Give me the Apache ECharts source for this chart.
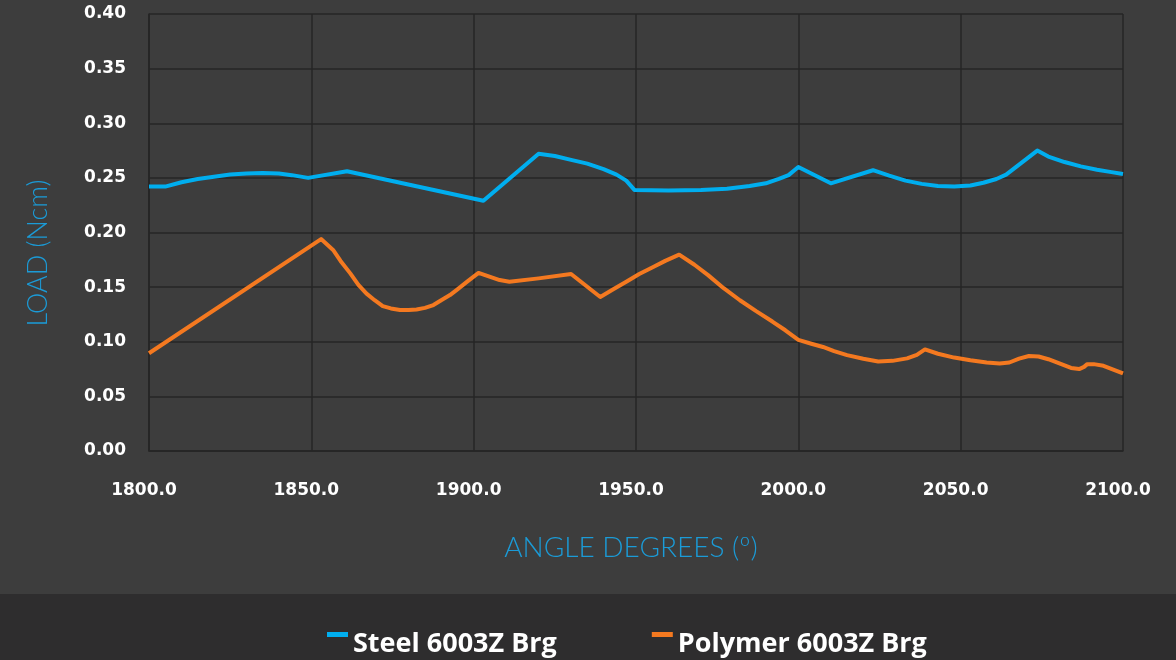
<!DOCTYPE html>
<html>
<head>
<meta charset="utf-8">
<script src="https://cdn.jsdelivr.net/npm/echarts@6/dist/echarts.min.js"></script>
<style>
html,body{margin:0;padding:0;background:#3d3d3d;}
#c{width:1176px;height:660px;}
</style>
</head>
<body>
<div id="c"></div>
<script>
const seriesNames = ['Steel 6003Z Brg', 'Polymer 6003Z Brg'];
const xTicks = [1800, 1850, 1900, 1950, 2000, 2050, 2100];
const yTicks = [0, 0.05, 0.10, 0.15, 0.20, 0.25, 0.30, 0.35, 0.40];

const steelAngle = [1800, 1805, 1810, 1815, 1820, 1825, 1830, 1835, 1840, 1844, 1849, 1861, 1903, 1920, 1925, 1930, 1935, 1940, 1944, 1947, 1949.5, 1960, 1970, 1978, 1985, 1990, 1994, 1997, 2000, 2010, 2023, 2028, 2033, 2038, 2043, 2048, 2053, 2057, 2061, 2064, 2073.6, 2077, 2082, 2087, 2092, 2096, 2100];
const steelLoad  = [0.242, 0.242, 0.246, 0.249, 0.251, 0.253, 0.254, 0.2545, 0.254, 0.2525, 0.250, 0.256, 0.229, 0.272, 0.270, 0.2665, 0.263, 0.258, 0.253, 0.2475, 0.239, 0.2385, 0.239, 0.240, 0.2425, 0.245, 0.249, 0.2525, 0.260, 0.245, 0.257, 0.252, 0.2475, 0.2445, 0.2425, 0.242, 0.243, 0.2455, 0.249, 0.253, 0.275, 0.2695, 0.2645, 0.2605, 0.2575, 0.2555, 0.2535];

const polyAngle = [1800, 1853, 1856.7, 1859, 1862, 1864.5, 1867, 1869.5, 1872, 1874.5, 1877.3, 1880, 1882.4, 1885, 1887.6, 1890, 1892.7, 1895, 1898, 1901.5, 1908, 1911, 1920, 1930, 1939, 1943, 1947, 1951, 1955, 1959, 1963.3, 1968, 1972.2, 1977, 1982, 1987, 1992, 1996, 2000, 2004, 2007.6, 2011, 2015, 2020, 2024.6, 2029, 2033.5, 2036.5, 2039, 2043, 2048, 2053, 2058, 2062, 2065, 2068, 2071, 2074, 2077, 2081, 2084, 2086.5, 2088, 2089, 2091, 2094, 2097, 2100];
const polyLoad  = [0.0895, 0.194, 0.184, 0.174, 0.1626, 0.152, 0.144, 0.138, 0.1326, 0.1305, 0.129, 0.129, 0.1296, 0.131, 0.1336, 0.138, 0.1427, 0.148, 0.155, 0.163, 0.1565, 0.155, 0.158, 0.162, 0.141, 0.148, 0.155, 0.162, 0.168, 0.174, 0.1797, 0.1705, 0.161, 0.149, 0.138, 0.128, 0.1185, 0.1105, 0.1017, 0.0982, 0.0952, 0.0915, 0.0878, 0.0845, 0.082, 0.0825, 0.0848, 0.088, 0.093, 0.089, 0.0855, 0.083, 0.081, 0.080, 0.081, 0.0845, 0.087, 0.0865, 0.084, 0.0795, 0.076, 0.075, 0.077, 0.0795, 0.0795, 0.078, 0.0745, 0.071];

const zip = (a, b) => a.map((v, i) => [v, b[i]]);

const chart = echarts.init(document.getElementById('c'));
const gridColor = '#262626';
const tickFont = 'DejaVu Sans';
chart.setOption({
  backgroundColor: '#3d3d3d',
  animation: false,
  grid: { left: 149, right: 53, top: 14, bottom: 209, containLabel: false },
  graphic: [
    { type: 'rect', left: 0, top: 594, shape: { width: 1176, height: 66 }, style: { fill: '#2e2d2e' }, z: -1 },
    { type: 'text', x: 38, y: 253, rotation: Math.PI / 2,
      style: { text: 'LOAD (Ncm)', fill: '#1b9bd7', font: '300 27px Lato', align: 'center', verticalAlign: 'middle' } },
    { type: 'text', x: 631, y: 548,
      style: { text: 'ANGLE DEGREES (º)', fill: '#1b9bd7', font: '300 28px Lato', align: 'center', verticalAlign: 'middle' } }
  ],
  legend: {
    data: seriesNames,
    top: 626,
    left: 322,
    itemGap: 95,
    itemWidth: 21,
    itemHeight: 25,
    icon: 'path://M0,0H21V5H0Z M0,25L21,25',
    textStyle: { color: '#ffffff', fontSize: 27, fontWeight: 'bold', fontFamily: 'Open Sans' }
  },
  xAxis: {
    type: 'value',
    min: 1800, max: 2100, interval: 50,
    axisLine: { show: true, lineStyle: { color: gridColor, width: 1.5 } },
    axisTick: { show: false },
    splitLine: { show: true, lineStyle: { color: gridColor, width: 1.5 } },
    axisLabel: { color: '#ffffff', fontSize: 17, fontWeight: 'bold', fontFamily: tickFont, margin: 31,
      padding: [0, 10, 0, 0],
      formatter: v => xTicks.includes(v) ? v.toFixed(1) : '' }
  },
  yAxis: {
    type: 'value',
    min: 0, max: 0.4, interval: 0.05,
    axisLine: { show: true, lineStyle: { color: gridColor, width: 1.5 } },
    axisTick: { show: false },
    splitLine: { show: true, lineStyle: { color: gridColor, width: 1.5 } },
    axisLabel: { color: '#ffffff', fontSize: 17, fontWeight: 'bold', fontFamily: tickFont, margin: 23,
      formatter: v => { const t = yTicks.find(y => Math.abs(y - v) < 1e-9); return t !== undefined ? t.toFixed(2) : ''; } }
  },
  series: [
    { name: seriesNames[0], type: 'line', data: zip(steelAngle, steelLoad), showSymbol: false, smooth: false,
      itemStyle: { color: '#00aeef' }, lineStyle: { color: '#00aeef', width: 4, join: 'round' } },
    { name: seriesNames[1], type: 'line', data: zip(polyAngle, polyLoad), showSymbol: false, smooth: false,
      itemStyle: { color: '#f47920' }, lineStyle: { color: '#f47920', width: 4, join: 'round' } }
  ]
});
</script>
</body>
</html>
